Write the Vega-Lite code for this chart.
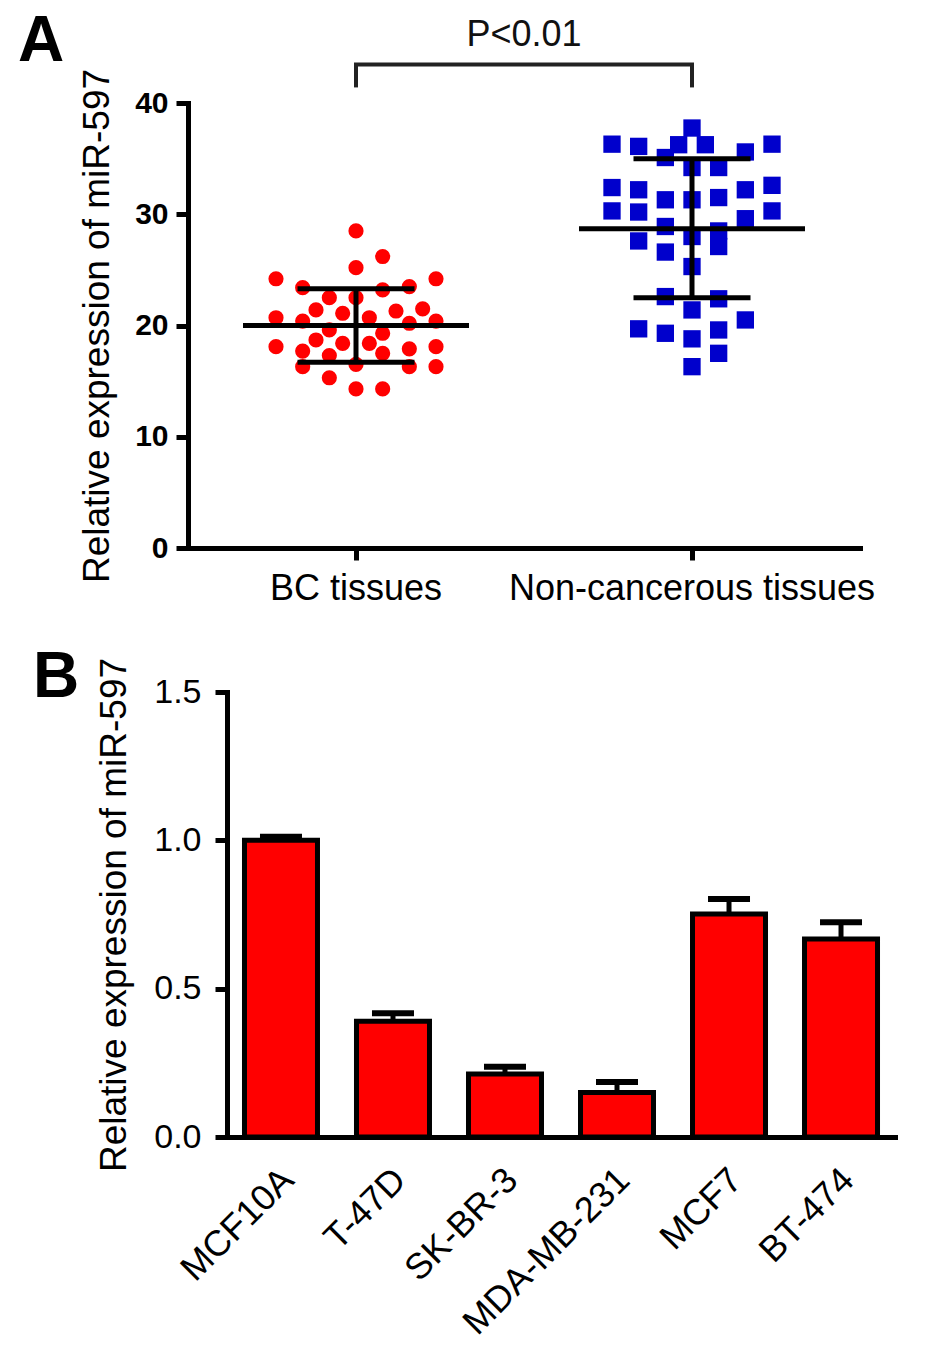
{
  "$schema": "https://vega.github.io/schema/vega-lite/v6.json",
  "background": "white",
  "padding": {"left": 18, "top": 10, "right": 5, "bottom": 5},
  "config": {
    "font": "Liberation Sans",
    "view": {"stroke": null},
    "axis": {
      "grid": false,
      "domainColor": "black",
      "domainWidth": 5,
      "domainCap": "square",
      "tickColor": "black",
      "tickWidth": 5,
      "tickSize": 12,
      "labelColor": "black",
      "titleColor": "black",
      "labelFont": "Liberation Sans",
      "titleFont": "Liberation Sans",
      "titleFontWeight": "normal",
      "labelLimit": 600
    },
    "title": {"font": "Liberation Sans", "color": "black", "fontWeight": "bold", "fontSize": 64, "anchor": "start", "frame": "group"}
  },
  "datasets": {
    "bc": [
      {"group": "BC tissues", "slot": 0, "value": 28.5},
      {"group": "BC tissues", "slot": 2, "value": 26.2},
      {"group": "BC tissues", "slot": 0, "value": 25.2},
      {"group": "BC tissues", "slot": -6, "value": 24.2},
      {"group": "BC tissues", "slot": 6, "value": 24.2},
      {"group": "BC tissues", "slot": -4, "value": 23.4},
      {"group": "BC tissues", "slot": 2, "value": 23.2},
      {"group": "BC tissues", "slot": 4, "value": 23.5},
      {"group": "BC tissues", "slot": -2, "value": 22.5},
      {"group": "BC tissues", "slot": 0, "value": 22.5},
      {"group": "BC tissues", "slot": -3, "value": 21.4},
      {"group": "BC tissues", "slot": -1, "value": 21.1},
      {"group": "BC tissues", "slot": 3, "value": 21.3},
      {"group": "BC tissues", "slot": 5, "value": 21.5},
      {"group": "BC tissues", "slot": 1, "value": 20.7},
      {"group": "BC tissues", "slot": -6, "value": 20.7},
      {"group": "BC tissues", "slot": -4, "value": 20.4},
      {"group": "BC tissues", "slot": 4, "value": 20.2},
      {"group": "BC tissues", "slot": 6, "value": 20.4},
      {"group": "BC tissues", "slot": -2, "value": 19.6},
      {"group": "BC tissues", "slot": 2, "value": 19.3},
      {"group": "BC tissues", "slot": -3, "value": 18.7},
      {"group": "BC tissues", "slot": -1, "value": 18.4},
      {"group": "BC tissues", "slot": 1, "value": 18.4},
      {"group": "BC tissues", "slot": -6, "value": 18.1},
      {"group": "BC tissues", "slot": 6, "value": 18.1},
      {"group": "BC tissues", "slot": -4, "value": 17.7},
      {"group": "BC tissues", "slot": 4, "value": 17.9},
      {"group": "BC tissues", "slot": 2, "value": 17.5},
      {"group": "BC tissues", "slot": -2, "value": 17.3},
      {"group": "BC tissues", "slot": 0, "value": 16.5},
      {"group": "BC tissues", "slot": -4, "value": 16.3},
      {"group": "BC tissues", "slot": 4, "value": 16.3},
      {"group": "BC tissues", "slot": 6, "value": 16.3},
      {"group": "BC tissues", "slot": -2, "value": 15.3},
      {"group": "BC tissues", "slot": 0, "value": 14.3},
      {"group": "BC tissues", "slot": 2, "value": 14.3}
    ],
    "nc": [
      {"group": "Non-cancerous tissues", "slot": 0, "value": 37.75},
      {"group": "Non-cancerous tissues", "slot": -1, "value": 36.25},
      {"group": "Non-cancerous tissues", "slot": 1, "value": 36.25},
      {"group": "Non-cancerous tissues", "slot": -6, "value": 36.3},
      {"group": "Non-cancerous tissues", "slot": -4, "value": 36.1},
      {"group": "Non-cancerous tissues", "slot": 6, "value": 36.3},
      {"group": "Non-cancerous tissues", "slot": 4, "value": 35.6},
      {"group": "Non-cancerous tissues", "slot": -2, "value": 35.1},
      {"group": "Non-cancerous tissues", "slot": 0, "value": 34.2},
      {"group": "Non-cancerous tissues", "slot": 2, "value": 34.2},
      {"group": "Non-cancerous tissues", "slot": -6, "value": 32.4},
      {"group": "Non-cancerous tissues", "slot": -4, "value": 32.2},
      {"group": "Non-cancerous tissues", "slot": 6, "value": 32.6},
      {"group": "Non-cancerous tissues", "slot": 4, "value": 32.2},
      {"group": "Non-cancerous tissues", "slot": -2, "value": 31.3},
      {"group": "Non-cancerous tissues", "slot": 0, "value": 31.3},
      {"group": "Non-cancerous tissues", "slot": 2, "value": 31.5},
      {"group": "Non-cancerous tissues", "slot": -6, "value": 30.3},
      {"group": "Non-cancerous tissues", "slot": -4, "value": 30.2},
      {"group": "Non-cancerous tissues", "slot": 6, "value": 30.3},
      {"group": "Non-cancerous tissues", "slot": 4, "value": 29.6},
      {"group": "Non-cancerous tissues", "slot": -2, "value": 28.9},
      {"group": "Non-cancerous tissues", "slot": 2, "value": 28.5},
      {"group": "Non-cancerous tissues", "slot": 0, "value": 28.0},
      {"group": "Non-cancerous tissues", "slot": -4, "value": 27.6},
      {"group": "Non-cancerous tissues", "slot": 2, "value": 27.1},
      {"group": "Non-cancerous tissues", "slot": -2, "value": 26.6},
      {"group": "Non-cancerous tissues", "slot": 0, "value": 25.3},
      {"group": "Non-cancerous tissues", "slot": -2, "value": 22.6},
      {"group": "Non-cancerous tissues", "slot": 2, "value": 22.4},
      {"group": "Non-cancerous tissues", "slot": 0, "value": 21.4},
      {"group": "Non-cancerous tissues", "slot": 4, "value": 20.5},
      {"group": "Non-cancerous tissues", "slot": -4, "value": 19.7},
      {"group": "Non-cancerous tissues", "slot": -2, "value": 19.3},
      {"group": "Non-cancerous tissues", "slot": 2, "value": 19.6},
      {"group": "Non-cancerous tissues", "slot": 0, "value": 18.8},
      {"group": "Non-cancerous tissues", "slot": 2, "value": 17.5},
      {"group": "Non-cancerous tissues", "slot": 0, "value": 16.3}
    ],
    "summary": [
      {"group": "BC tissues", "mean": 20.0, "lo": 16.7, "hi": 23.3},
      {"group": "Non-cancerous tissues", "mean": 28.7, "lo": 22.5, "hi": 35.0}
    ],
    "legs": [
      {"group": "BC tissues", "lo": 41.4, "hi": 43.45},
      {"group": "Non-cancerous tissues", "lo": 41.4, "hi": 43.45}
    ],
    "pval": [
      {"from": "BC tissues", "to": "Non-cancerous tissues", "y": 43.45, "label": "P<0.01", "ty": 45.1}
    ],
    "bars": [
      {"cell": "MCF10A", "value": 1.0, "top": 1.012},
      {"cell": "T-47D", "value": 0.39, "top": 0.417},
      {"cell": "SK-BR-3", "value": 0.212, "top": 0.237},
      {"cell": "MDA-MB-231", "value": 0.15, "top": 0.185},
      {"cell": "MCF7", "value": 0.752, "top": 0.802},
      {"cell": "BT-474", "value": 0.667, "top": 0.724}
    ]
  },
  "vconcat": [
    {
      "width": 672,
      "height": 445,
      "title": {"text": "A", "dx": -170, "dy": 61},
      "encoding": {
        "x": {
          "field": "group",
          "type": "nominal",
          "title": null,
          "scale": {"type": "band", "domain": ["BC tissues", "Non-cancerous tissues"], "paddingInner": 0, "paddingOuter": 0},
          "axis": {"labelAngle": 0, "labelFontSize": 36, "labelPadding": 11}
        }
      },
      "layer": [
        {
          "data": {"name": "bc"},
          "mark": {"type": "circle", "size": 230, "color": "#ff0000", "opacity": 1},
          "encoding": {
            "xOffset": {"field": "slot", "type": "quantitative", "scale": {"domain": [-12.6, 12.6], "range": [0, 336]}},
            "y": {
              "field": "value",
              "type": "quantitative",
              "scale": {"domain": [0, 40], "nice": false},
              "axis": {
                "title": "Relative expression of miR-597",
                "values": [0, 10, 20, 30, 40],
                "labelFontSize": 30,
                "labelFontWeight": "bold",
                "labelPadding": 8,
                "titleFontSize": 37,
                "titlePadding": 18
              }
            }
          }
        },
        {
          "data": {"name": "nc"},
          "mark": {"type": "square", "size": 300, "color": "#0000cc", "opacity": 1},
          "encoding": {
            "xOffset": {"field": "slot", "type": "quantitative"},
            "y": {"field": "value", "type": "quantitative"}
          }
        },
        {
          "data": {"name": "summary"},
          "mark": {"type": "rule", "strokeWidth": 5, "color": "black"},
          "encoding": {
            "y": {"field": "lo", "type": "quantitative"},
            "y2": {"field": "hi"}
          }
        },
        {
          "data": {"name": "summary"},
          "mark": {"type": "tick", "size": 226, "thickness": 5, "color": "black", "opacity": 1},
          "encoding": {"y": {"field": "mean", "type": "quantitative"}}
        },
        {
          "data": {"name": "summary"},
          "mark": {"type": "tick", "size": 117, "thickness": 5, "color": "black", "opacity": 1},
          "encoding": {"y": {"field": "lo", "type": "quantitative"}}
        },
        {
          "data": {"name": "summary"},
          "mark": {"type": "tick", "size": 117, "thickness": 5, "color": "black", "opacity": 1},
          "encoding": {"y": {"field": "hi", "type": "quantitative"}}
        },
        {
          "data": {"name": "legs"},
          "mark": {"type": "rule", "strokeWidth": 4, "color": "#222222"},
          "encoding": {
            "y": {"field": "lo", "type": "quantitative"},
            "y2": {"field": "hi"}
          }
        },
        {
          "data": {"name": "pval"},
          "mark": {"type": "rule", "strokeWidth": 4, "color": "#222222", "strokeCap": "square"},
          "encoding": {
            "x": {"field": "from", "type": "nominal"},
            "x2": {"field": "to"},
            "y": {"field": "y", "type": "quantitative"}
          }
        },
        {
          "data": {"name": "pval"},
          "mark": {"type": "text", "fontSize": 36, "color": "#111111", "baseline": "alphabetic", "align": "center"},
          "encoding": {
            "x": {"field": "from", "type": "nominal", "bandPosition": 1},
            "y": {"field": "ty", "type": "quantitative"},
            "text": {"field": "label"}
          }
        }
      ]
    },
    {
      "width": 707,
      "height": 445,
      "title": {"text": "B", "dx": -155, "dy": 57},
      "data": {"name": "bars"},
      "encoding": {
        "x": {
          "field": "cell",
          "type": "nominal",
          "sort": null,
          "title": null,
          "scale": {"type": "band", "range": [39, 707], "paddingInner": 0.31, "paddingOuter": 0.137},
          "axis": {
            "labelAngle": -45,
            "labelAlign": "right",
            "labelBaseline": "middle",
            "labelFontSize": 36,
            "labelPadding": 37,
            "labelOffset": 7,
            "ticks": false
          }
        }
      },
      "layer": [
        {
          "mark": {"type": "bar", "fill": "#ff0000", "stroke": "black", "strokeWidth": 5, "width": 73},
          "encoding": {
            "y": {
              "field": "value",
              "type": "quantitative",
              "scale": {"domain": [0, 1.5], "nice": false},
              "axis": {
                "title": "Relative expression of miR-597",
                "offset": -39,
                "values": [0, 0.5, 1.0, 1.5],
                "format": ".1f",
                "labelFontSize": 34,
                "labelPadding": 14,
                "titleFontSize": 37,
                "titlePadding": 20
              }
            }
          }
        },
        {
          "mark": {"type": "rule", "strokeWidth": 5, "color": "black"},
          "encoding": {
            "y": {"field": "value", "type": "quantitative"},
            "y2": {"field": "top"}
          }
        },
        {
          "mark": {"type": "tick", "size": 42, "thickness": 6, "color": "black", "opacity": 1},
          "encoding": {"y": {"field": "top", "type": "quantitative"}}
        }
      ]
    }
  ],
  "spacing": 40
}
